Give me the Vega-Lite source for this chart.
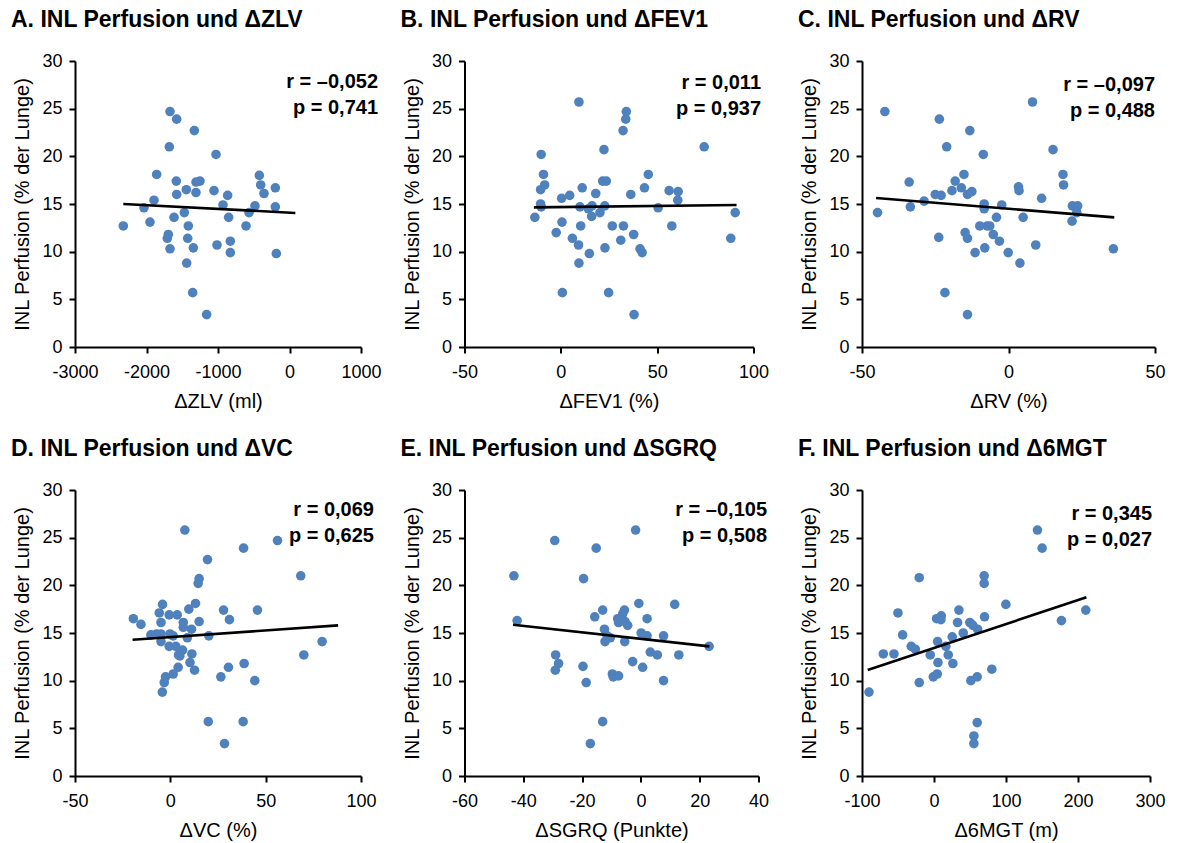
{
"$schema": "https://vega.github.io/schema/vega-lite/v6.json",
"padding": {"left": 11, "top": 9, "right": 5, "bottom": 5},
"background": "white",
"datasets": {
"pts": [
{"p":"A","x":-2324,"y":12.7},{"p":"A","x":-2035,"y":14.6},{"p":"A","x":-1895,"y":15.4},{"p":"A","x":-1951,"y":13.1},{"p":"A","x":-1858,"y":18.1},{"p":"A","x":-1671,"y":24.7},{"p":"A","x":-1578,"y":23.9},{"p":"A","x":-1331,"y":22.7},{"p":"A","x":-1681,"y":21.0},{"p":"A","x":-1583,"y":17.4},{"p":"A","x":-1578,"y":16.0},{"p":"A","x":-1443,"y":16.5},{"p":"A","x":-1308,"y":17.3},{"p":"A","x":-1308,"y":16.2},{"p":"A","x":-1252,"y":17.4},{"p":"A","x":-1615,"y":13.6},{"p":"A","x":-1471,"y":14.1},{"p":"A","x":-1415,"y":12.7},{"p":"A","x":-1695,"y":11.8},{"p":"A","x":-1709,"y":11.4},{"p":"A","x":-1671,"y":10.3},{"p":"A","x":-1424,"y":11.4},{"p":"A","x":-1345,"y":10.4},{"p":"A","x":-1438,"y":8.8},{"p":"A","x":-1354,"y":5.7},{"p":"A","x":-1159,"y":3.4},{"p":"A","x":-1028,"y":20.2},{"p":"A","x":-1056,"y":16.4},{"p":"A","x":-930,"y":14.9},{"p":"A","x":-865,"y":15.9},{"p":"A","x":-851,"y":13.6},{"p":"A","x":-1014,"y":10.7},{"p":"A","x":-828,"y":11.1},{"p":"A","x":-828,"y":9.9},{"p":"A","x":-608,"y":12.7},{"p":"A","x":-566,"y":14.1},{"p":"A","x":-483,"y":14.8},{"p":"A","x":-422,"y":18.0},{"p":"A","x":-403,"y":17.0},{"p":"A","x":-357,"y":16.1},{"p":"A","x":-198,"y":16.7},{"p":"A","x":-198,"y":14.7},{"p":"A","x":-184,"y":9.8},
{"p":"B","x":-13.5,"y":13.6},{"p":"B","x":-10.5,"y":16.5},{"p":"B","x":-10.5,"y":15.0},{"p":"B","x":-10.2,"y":14.7},{"p":"B","x":-10.2,"y":20.2},{"p":"B","x":-9.0,"y":18.1},{"p":"B","x":-8.4,"y":17.0},{"p":"B","x":-2.4,"y":12.0},{"p":"B","x":0.4,"y":15.6},{"p":"B","x":0.6,"y":13.1},{"p":"B","x":0.8,"y":5.7},{"p":"B","x":4.6,"y":15.9},{"p":"B","x":6.0,"y":11.4},{"p":"B","x":9.4,"y":25.7},{"p":"B","x":9.9,"y":14.7},{"p":"B","x":10.3,"y":12.7},{"p":"B","x":9.2,"y":10.7},{"p":"B","x":9.4,"y":8.8},{"p":"B","x":11.1,"y":16.7},{"p":"B","x":14.8,"y":9.8},{"p":"B","x":14.3,"y":14.5},{"p":"B","x":16.2,"y":14.8},{"p":"B","x":16.0,"y":13.7},{"p":"B","x":18.1,"y":16.1},{"p":"B","x":20.3,"y":14.1},{"p":"B","x":22.4,"y":20.7},{"p":"B","x":21.7,"y":17.4},{"p":"B","x":23.6,"y":17.4},{"p":"B","x":22.8,"y":14.8},{"p":"B","x":22.9,"y":10.4},{"p":"B","x":24.8,"y":5.7},{"p":"B","x":26.7,"y":12.7},{"p":"B","x":31.1,"y":11.2},{"p":"B","x":32.3,"y":22.7},{"p":"B","x":33.7,"y":23.9},{"p":"B","x":34.0,"y":24.7},{"p":"B","x":32.5,"y":12.7},{"p":"B","x":36.3,"y":16.0},{"p":"B","x":37.8,"y":11.8},{"p":"B","x":38.0,"y":3.4},{"p":"B","x":41.1,"y":10.3},{"p":"B","x":42.2,"y":9.9},{"p":"B","x":43.4,"y":16.7},{"p":"B","x":45.4,"y":18.1},{"p":"B","x":50.5,"y":14.6},{"p":"B","x":56.2,"y":16.4},{"p":"B","x":57.6,"y":12.7},{"p":"B","x":60.9,"y":16.3},{"p":"B","x":60.7,"y":15.4},{"p":"B","x":74.4,"y":21.0},{"p":"B","x":88.2,"y":11.4},{"p":"B","x":90.5,"y":14.1},
{"p":"C","x":-44.7,"y":14.1},{"p":"C","x":-42.2,"y":24.7},{"p":"C","x":-33.9,"y":17.3},{"p":"C","x":-33.5,"y":14.7},{"p":"C","x":-28.8,"y":15.3},{"p":"C","x":-25.0,"y":16.0},{"p":"C","x":-23.0,"y":15.9},{"p":"C","x":-23.6,"y":23.9},{"p":"C","x":-23.8,"y":11.5},{"p":"C","x":-21.7,"y":5.7},{"p":"C","x":-21.1,"y":21.0},{"p":"C","x":-19.3,"y":16.4},{"p":"C","x":-18.2,"y":17.4},{"p":"C","x":-16.1,"y":16.7},{"p":"C","x":-15.2,"y":18.1},{"p":"C","x":-14.8,"y":12.0},{"p":"C","x":-14.0,"y":11.4},{"p":"C","x":-14.0,"y":16.0},{"p":"C","x":-12.5,"y":16.3},{"p":"C","x":-14.0,"y":3.4},{"p":"C","x":-13.2,"y":22.7},{"p":"C","x":-11.4,"y":9.9},{"p":"C","x":-9.8,"y":12.7},{"p":"C","x":-8.6,"y":20.2},{"p":"C","x":-8.3,"y":15.0},{"p":"C","x":-8.3,"y":14.5},{"p":"C","x":-8.1,"y":10.4},{"p":"C","x":-7.3,"y":12.7},{"p":"C","x":-6.4,"y":12.7},{"p":"C","x":-5.2,"y":11.8},{"p":"C","x":-4.1,"y":13.6},{"p":"C","x":-3.1,"y":11.1},{"p":"C","x":-2.3,"y":14.9},{"p":"C","x":-0.1,"y":9.9},{"p":"C","x":3.4,"y":16.8},{"p":"C","x":3.6,"y":16.4},{"p":"C","x":3.9,"y":8.8},{"p":"C","x":5.0,"y":13.6},{"p":"C","x":8.2,"y":25.7},{"p":"C","x":9.3,"y":10.7},{"p":"C","x":11.3,"y":15.6},{"p":"C","x":15.2,"y":20.7},{"p":"C","x":18.6,"y":18.1},{"p":"C","x":18.8,"y":17.0},{"p":"C","x":21.7,"y":13.2},{"p":"C","x":21.8,"y":14.8},{"p":"C","x":23.6,"y":14.8},{"p":"C","x":23.3,"y":14.1},{"p":"C","x":35.8,"y":10.3},
{"p":"D","x":-19.4,"y":16.5},{"p":"D","x":-15.4,"y":15.9},{"p":"D","x":-10.2,"y":14.8},{"p":"D","x":-7.2,"y":14.9},{"p":"D","x":-4.9,"y":14.9},{"p":"D","x":-5.8,"y":17.1},{"p":"D","x":-4.9,"y":16.1},{"p":"D","x":-4.1,"y":18.0},{"p":"D","x":-4.9,"y":14.1},{"p":"D","x":-0.6,"y":16.9},{"p":"D","x":-0.2,"y":14.9},{"p":"D","x":1.5,"y":14.7},{"p":"D","x":-0.6,"y":13.6},{"p":"D","x":2.9,"y":13.6},{"p":"D","x":3.6,"y":16.9},{"p":"D","x":6.8,"y":16.1},{"p":"D","x":6.8,"y":15.6},{"p":"D","x":6.4,"y":13.2},{"p":"D","x":4.3,"y":12.7},{"p":"D","x":8.9,"y":14.5},{"p":"D","x":11.1,"y":15.4},{"p":"D","x":9.7,"y":17.5},{"p":"D","x":13.2,"y":18.1},{"p":"D","x":15.1,"y":16.2},{"p":"D","x":14.6,"y":20.2},{"p":"D","x":15.1,"y":20.7},{"p":"D","x":7.6,"y":25.8},{"p":"D","x":19.5,"y":22.7},{"p":"D","x":20.2,"y":14.7},{"p":"D","x":11.3,"y":12.8},{"p":"D","x":10.3,"y":11.9},{"p":"D","x":12.7,"y":11.1},{"p":"D","x":4.1,"y":11.4},{"p":"D","x":1.5,"y":10.7},{"p":"D","x":-2.5,"y":10.4},{"p":"D","x":-3.2,"y":9.8},{"p":"D","x":-4.2,"y":8.8},{"p":"D","x":19.9,"y":5.7},{"p":"D","x":28.4,"y":3.4},{"p":"D","x":27.9,"y":17.4},{"p":"D","x":31.0,"y":16.4},{"p":"D","x":30.5,"y":11.4},{"p":"D","x":26.5,"y":10.4},{"p":"D","x":38.4,"y":23.9},{"p":"D","x":38.2,"y":5.7},{"p":"D","x":38.7,"y":11.8},{"p":"D","x":44.3,"y":10.0},{"p":"D","x":45.7,"y":17.4},{"p":"D","x":56.2,"y":24.7},{"p":"D","x":68.4,"y":21.0},{"p":"D","x":70.0,"y":12.7},{"p":"D","x":79.6,"y":14.1},{"p":"D","x":5.0,"y":12.6},
{"p":"E","x":-43.2,"y":21.0},{"p":"E","x":-42.1,"y":16.3},{"p":"E","x":-29.3,"y":24.7},{"p":"E","x":-29.0,"y":12.7},{"p":"E","x":-28.0,"y":11.8},{"p":"E","x":-29.1,"y":11.1},{"p":"E","x":-19.5,"y":20.7},{"p":"E","x":-15.2,"y":23.9},{"p":"E","x":-19.7,"y":11.5},{"p":"E","x":-18.6,"y":9.8},{"p":"E","x":-17.2,"y":3.4},{"p":"E","x":-13.0,"y":5.7},{"p":"E","x":-15.7,"y":16.7},{"p":"E","x":-13.0,"y":17.4},{"p":"E","x":-12.4,"y":15.4},{"p":"E","x":-12.2,"y":14.1},{"p":"E","x":-11.5,"y":14.7},{"p":"E","x":-10.4,"y":14.5},{"p":"E","x":-9.7,"y":10.7},{"p":"E","x":-9.4,"y":10.4},{"p":"E","x":-7.6,"y":10.5},{"p":"E","x":-7.9,"y":16.5},{"p":"E","x":-7.6,"y":16.1},{"p":"E","x":-6.2,"y":17.0},{"p":"E","x":-5.6,"y":17.4},{"p":"E","x":-5.4,"y":16.2},{"p":"E","x":-4.5,"y":15.8},{"p":"E","x":-5.5,"y":14.1},{"p":"E","x":-2.8,"y":12.0},{"p":"E","x":-1.8,"y":25.8},{"p":"E","x":-0.7,"y":18.1},{"p":"E","x":0.1,"y":15.0},{"p":"E","x":0.6,"y":11.4},{"p":"E","x":2.1,"y":16.5},{"p":"E","x":2.1,"y":14.7},{"p":"E","x":3.2,"y":13.0},{"p":"E","x":5.6,"y":12.7},{"p":"E","x":7.7,"y":14.7},{"p":"E","x":7.7,"y":10.0},{"p":"E","x":11.5,"y":18.0},{"p":"E","x":12.9,"y":12.7},{"p":"E","x":23.2,"y":13.6},
{"p":"F","x":-90.3,"y":8.8},{"p":"F","x":-70.4,"y":12.8},{"p":"F","x":-55.6,"y":12.8},{"p":"F","x":-50.1,"y":17.1},{"p":"F","x":-43.6,"y":14.8},{"p":"F","x":-31.6,"y":13.6},{"p":"F","x":-26.0,"y":13.3},{"p":"F","x":-20.5,"y":20.8},{"p":"F","x":-20.5,"y":9.8},{"p":"F","x":-5.2,"y":12.7},{"p":"F","x":-1.0,"y":10.4},{"p":"F","x":4.5,"y":10.7},{"p":"F","x":5.5,"y":11.9},{"p":"F","x":5.0,"y":14.1},{"p":"F","x":3.6,"y":16.5},{"p":"F","x":10.1,"y":16.8},{"p":"F","x":9.6,"y":16.4},{"p":"F","x":16.5,"y":13.6},{"p":"F","x":19.8,"y":12.7},{"p":"F","x":25.3,"y":14.6},{"p":"F","x":26.2,"y":11.8},{"p":"F","x":32.7,"y":16.1},{"p":"F","x":34.6,"y":17.4},{"p":"F","x":40.6,"y":15.0},{"p":"F","x":49.8,"y":16.1},{"p":"F","x":54.0,"y":15.8},{"p":"F","x":60.5,"y":15.4},{"p":"F","x":51.2,"y":10.0},{"p":"F","x":60.0,"y":10.4},{"p":"F","x":60.0,"y":5.6},{"p":"F","x":55.4,"y":4.2},{"p":"F","x":55.4,"y":3.4},{"p":"F","x":69.7,"y":21.0},{"p":"F","x":69.7,"y":20.2},{"p":"F","x":70.2,"y":16.7},{"p":"F","x":80.3,"y":11.2},{"p":"F","x":99.8,"y":18.0},{"p":"F","x":143.7,"y":25.8},{"p":"F","x":150.2,"y":23.9},{"p":"F","x":177.0,"y":16.3},{"p":"F","x":210.8,"y":17.4}
],
"fit": [
{"p":"A","x":-2324,"y":15.0},{"p":"A","x":82,"y":14.06},
{"p":"B","x":-14,"y":14.65},{"p":"B","x":91.2,"y":14.89},
{"p":"C","x":-45.2,"y":15.63},{"p":"C","x":36.1,"y":13.6},
{"p":"D","x":-19.8,"y":14.3},{"p":"D","x":88.0,"y":15.8},
{"p":"E","x":-43.5,"y":15.87},{"p":"E","x":23.3,"y":13.6},
{"p":"F","x":-92.1,"y":11.13},{"p":"F","x":211.7,"y":18.74}
],
"stats": [
{"p":"A","t":["r = –0,052","p = 0,741"]},
{"p":"B","t":["r = 0,011","p = 0,937"]},
{"p":"C","t":["r = –0,097","p = 0,488"]},
{"p":"D","t":["r = 0,069","p = 0,625"]},
{"p":"E","t":["r = –0,105","p = 0,508"]},
{"p":"F","t":["r = 0,345","p = 0,027"]}
]
},
"columns": 3,
"bounds": "flush",
"spacing": {"row": 143, "column": 103.5},
"concat": [
{"width": 286, "height": 286, "title": "A. INL Perfusion und ΔZLV",
 "layer": [
  {"data": {"name": "pts"}, "transform": [{"filter": "datum.p == 'A'"}], "mark": {"type": "circle", "size": 92, "opacity": 1, "color": "#4F81BD"},
   "encoding": {"x": {"field": "x", "type": "quantitative", "scale": {"domain": [-3000, 1000], "nice": false, "zero": false}, "axis": {"values": [-3000, -2000, -1000, 0, 1000], "title": "ΔZLV (ml)", "labelExpr": "'' + datum.value"}},
                "y": {"field": "y", "type": "quantitative", "scale": {"domain": [0, 30], "nice": false}, "axis": {"values": [0, 5, 10, 15, 20, 25, 30], "title": "INL Perfusion (% der Lunge)"}}}},
  {"data": {"name": "fit"}, "transform": [{"filter": "datum.p == 'A'"}], "mark": {"type": "line", "color": "black", "strokeWidth": 2.6},
   "encoding": {"x": {"field": "x", "type": "quantitative"}, "y": {"field": "y", "type": "quantitative"}}},
  {"data": {"name": "stats"}, "transform": [{"filter": "datum.p == 'A'"}], "mark": {"type": "text", "align": "right", "baseline": "alphabetic", "fontWeight": "bold", "fontSize": 20, "lineHeight": 26, "font": "Liberation Sans", "color": "black"},
   "encoding": {"x": {"datum": 1238, "type": "quantitative"}, "y": {"datum": 27.2, "type": "quantitative"}, "text": {"field": "t", "type": "nominal"}}}
 ]},
{"width": 289, "height": 286, "title": "B. INL Perfusion und ΔFEV1",
 "layer": [
  {"data": {"name": "pts"}, "transform": [{"filter": "datum.p == 'B'"}], "mark": {"type": "circle", "size": 92, "opacity": 1, "color": "#4F81BD"},
   "encoding": {"x": {"field": "x", "type": "quantitative", "scale": {"domain": [-50, 100], "nice": false, "zero": false}, "axis": {"values": [-50, 0, 50, 100], "title": "ΔFEV1 (%)", "labelExpr": "'' + datum.value"}},
                "y": {"field": "y", "type": "quantitative", "scale": {"domain": [0, 30], "nice": false}, "axis": {"values": [0, 5, 10, 15, 20, 25, 30], "title": "INL Perfusion (% der Lunge)"}}}},
  {"data": {"name": "fit"}, "transform": [{"filter": "datum.p == 'B'"}], "mark": {"type": "line", "color": "black", "strokeWidth": 2.6},
   "encoding": {"x": {"field": "x", "type": "quantitative"}, "y": {"field": "y", "type": "quantitative"}}},
  {"data": {"name": "stats"}, "transform": [{"filter": "datum.p == 'B'"}], "mark": {"type": "text", "align": "right", "baseline": "alphabetic", "fontWeight": "bold", "fontSize": 20, "lineHeight": 26, "font": "Liberation Sans", "color": "black"},
   "encoding": {"x": {"datum": 103.9, "type": "quantitative"}, "y": {"datum": 27.1, "type": "quantitative"}, "text": {"field": "t", "type": "nominal"}}}
 ]},
{"width": 293, "height": 286, "title": "C. INL Perfusion und ΔRV",
 "layer": [
  {"data": {"name": "pts"}, "transform": [{"filter": "datum.p == 'C'"}], "mark": {"type": "circle", "size": 92, "opacity": 1, "color": "#4F81BD"},
   "encoding": {"x": {"field": "x", "type": "quantitative", "scale": {"domain": [-50, 50], "nice": false, "zero": false}, "axis": {"values": [-50, 0, 50], "title": "ΔRV (%)", "labelExpr": "'' + datum.value"}},
                "y": {"field": "y", "type": "quantitative", "scale": {"domain": [0, 30], "nice": false}, "axis": {"values": [0, 5, 10, 15, 20, 25, 30], "title": "INL Perfusion (% der Lunge)"}}}},
  {"data": {"name": "fit"}, "transform": [{"filter": "datum.p == 'C'"}], "mark": {"type": "line", "color": "black", "strokeWidth": 2.6},
   "encoding": {"x": {"field": "x", "type": "quantitative"}, "y": {"field": "y", "type": "quantitative"}}},
  {"data": {"name": "stats"}, "transform": [{"filter": "datum.p == 'C'"}], "mark": {"type": "text", "align": "right", "baseline": "alphabetic", "fontWeight": "bold", "fontSize": 20, "lineHeight": 26, "font": "Liberation Sans", "color": "black"},
   "encoding": {"x": {"datum": 50, "type": "quantitative"}, "y": {"datum": 26.9, "type": "quantitative"}, "text": {"field": "t", "type": "nominal"}}}
 ]},
{"width": 286, "height": 286, "title": "D. INL Perfusion und ΔVC",
 "layer": [
  {"data": {"name": "pts"}, "transform": [{"filter": "datum.p == 'D'"}], "mark": {"type": "circle", "size": 92, "opacity": 1, "color": "#4F81BD"},
   "encoding": {"x": {"field": "x", "type": "quantitative", "scale": {"domain": [-50, 100], "nice": false, "zero": false}, "axis": {"values": [-50, 0, 50, 100], "title": "ΔVC (%)", "labelExpr": "'' + datum.value"}},
                "y": {"field": "y", "type": "quantitative", "scale": {"domain": [0, 30], "nice": false}, "axis": {"values": [0, 5, 10, 15, 20, 25, 30], "title": "INL Perfusion (% der Lunge)"}}}},
  {"data": {"name": "fit"}, "transform": [{"filter": "datum.p == 'D'"}], "mark": {"type": "line", "color": "black", "strokeWidth": 2.6},
   "encoding": {"x": {"field": "x", "type": "quantitative"}, "y": {"field": "y", "type": "quantitative"}}},
  {"data": {"name": "stats"}, "transform": [{"filter": "datum.p == 'D'"}], "mark": {"type": "text", "align": "right", "baseline": "alphabetic", "fontWeight": "bold", "fontSize": 20, "lineHeight": 26, "font": "Liberation Sans", "color": "black"},
   "encoding": {"x": {"datum": 106.8, "type": "quantitative"}, "y": {"datum": 27.3, "type": "quantitative"}, "text": {"field": "t", "type": "nominal"}}}
 ]},
{"width": 294, "height": 286, "title": "E. INL Perfusion und ΔSGRQ",
 "layer": [
  {"data": {"name": "pts"}, "transform": [{"filter": "datum.p == 'E'"}], "mark": {"type": "circle", "size": 92, "opacity": 1, "color": "#4F81BD"},
   "encoding": {"x": {"field": "x", "type": "quantitative", "scale": {"domain": [-60, 40], "nice": false, "zero": false}, "axis": {"values": [-60, -40, -20, 0, 20, 40], "title": "ΔSGRQ (Punkte)", "labelExpr": "'' + datum.value"}},
                "y": {"field": "y", "type": "quantitative", "scale": {"domain": [0, 30], "nice": false}, "axis": {"values": [0, 5, 10, 15, 20, 25, 30], "title": "INL Perfusion (% der Lunge)"}}}},
  {"data": {"name": "fit"}, "transform": [{"filter": "datum.p == 'E'"}], "mark": {"type": "line", "color": "black", "strokeWidth": 2.6},
   "encoding": {"x": {"field": "x", "type": "quantitative"}, "y": {"field": "y", "type": "quantitative"}}},
  {"data": {"name": "stats"}, "transform": [{"filter": "datum.p == 'E'"}], "mark": {"type": "text", "align": "right", "baseline": "alphabetic", "fontWeight": "bold", "fontSize": 20, "lineHeight": 26, "font": "Liberation Sans", "color": "black"},
   "encoding": {"x": {"datum": 42.9, "type": "quantitative"}, "y": {"datum": 27.3, "type": "quantitative"}, "text": {"field": "t", "type": "nominal"}}}
 ]},
{"width": 288, "height": 286, "title": "F. INL Perfusion und Δ6MGT",
 "layer": [
  {"data": {"name": "pts"}, "transform": [{"filter": "datum.p == 'F'"}], "mark": {"type": "circle", "size": 92, "opacity": 1, "color": "#4F81BD"},
   "encoding": {"x": {"field": "x", "type": "quantitative", "scale": {"domain": [-100, 300], "nice": false, "zero": false}, "axis": {"values": [-100, 0, 100, 200, 300], "title": "Δ6MGT (m)", "labelExpr": "'' + datum.value"}},
                "y": {"field": "y", "type": "quantitative", "scale": {"domain": [0, 30], "nice": false}, "axis": {"values": [0, 5, 10, 15, 20, 25, 30], "title": "INL Perfusion (% der Lunge)"}}}},
  {"data": {"name": "fit"}, "transform": [{"filter": "datum.p == 'F'"}], "mark": {"type": "line", "color": "black", "strokeWidth": 2.6},
   "encoding": {"x": {"field": "x", "type": "quantitative"}, "y": {"field": "y", "type": "quantitative"}}},
  {"data": {"name": "stats"}, "transform": [{"filter": "datum.p == 'F'"}], "mark": {"type": "text", "align": "right", "baseline": "alphabetic", "fontWeight": "bold", "fontSize": 20, "lineHeight": 26, "font": "Liberation Sans", "color": "black"},
   "encoding": {"x": {"datum": 302.8, "type": "quantitative"}, "y": {"datum": 26.9, "type": "quantitative"}, "text": {"field": "t", "type": "nominal"}}}
 ]}
],
"config": {
 "view": {"stroke": null},
 "font": "Liberation Sans",
 "title": {"anchor": "start", "frame": "group", "dx": -64, "offset": 20, "baseline": "alphabetic", "fontSize": 23, "font": "Liberation Sans", "fontWeight": "bold", "color": "black"},
 "axis": {"domainColor": "black", "domainWidth": 2, "tickColor": "black", "tickWidth": 2, "tickSize": 6, "grid": false, "labelFont": "Liberation Sans", "labelFontSize": 18, "labelColor": "black", "titleFont": "Liberation Sans", "titleFontSize": 20, "titleFontWeight": "normal", "titleColor": "black", "labelFlush": false, "labelOverlap": false},
 "axisX": {"labelPadding": 10, "titlePadding": 10},
 "axisY": {"labelPadding": 7, "titlePadding": 9}
}
}
